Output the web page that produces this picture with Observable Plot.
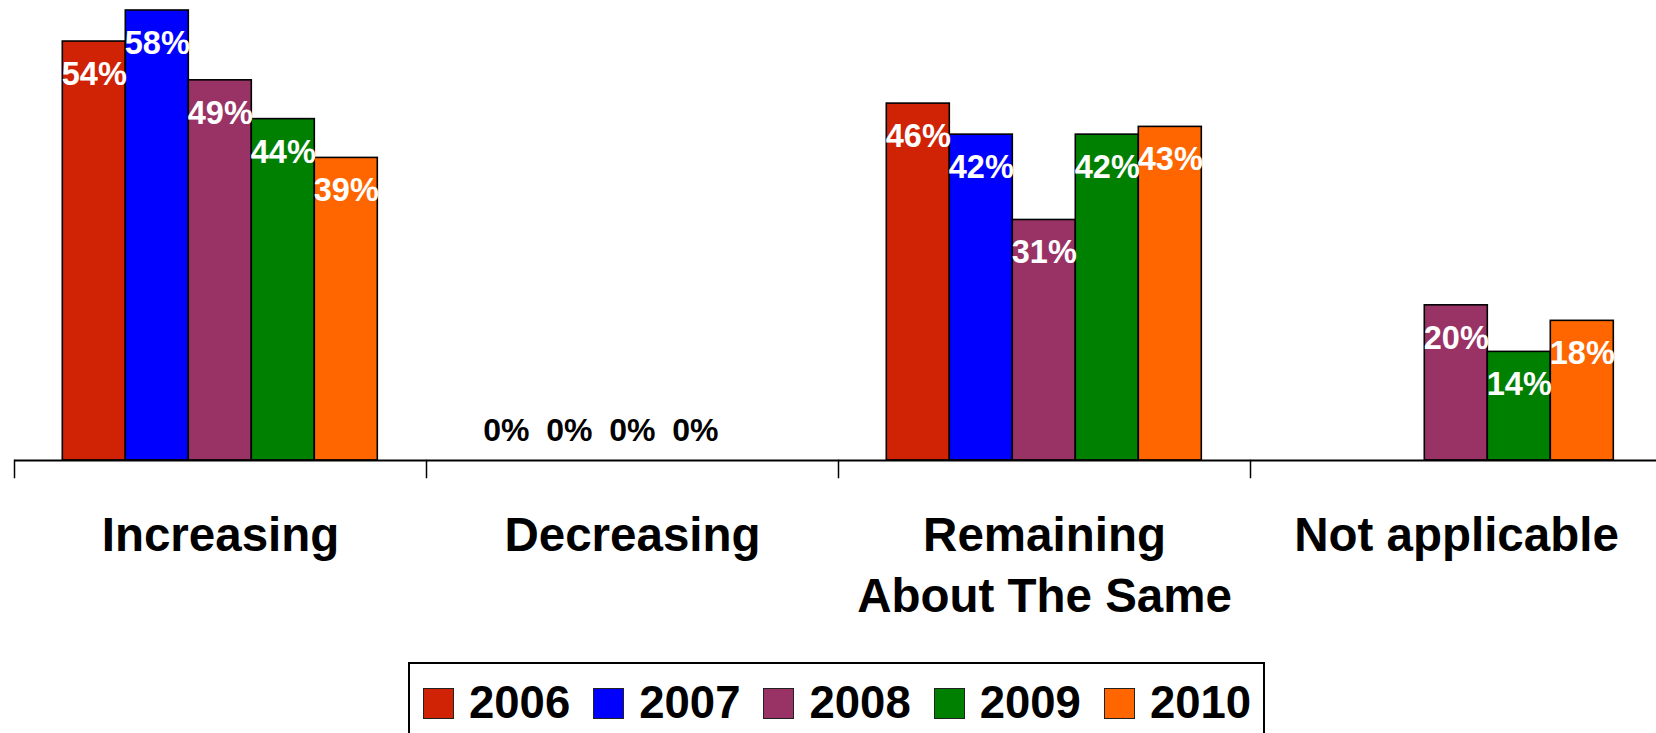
<!DOCTYPE html>
<html>
<head>
<meta charset="utf-8">
<script src="https://cdn.jsdelivr.net/npm/d3@7"></script>
<script src="https://cdn.jsdelivr.net/npm/@observablehq/plot@0.6"></script>
<style>
  html, body { margin: 0; padding: 0; background: #fff; overflow: hidden; }
  #chart { position: relative; width: 1656px; height: 733px; font-family: "Liberation Sans", Arial, sans-serif; }
  .legend {
    position: absolute; left: 408px; top: 662px; width: 857px; height: 100px;
    box-sizing: border-box; border: 2px solid #000; background: #fff;
    display: flex; align-items: flex-start; padding: 21px 0 0 13px;
  }
  .item { display: flex; align-items: center; margin-right: 23px; }
  .sw { width: 31px; height: 31px; box-sizing: border-box; border: 1.5px solid #222; margin-right: 15px; }
  .lab { font-size: 45.5px; font-weight: bold; line-height: 36px; color: #000; }
</style>
</head>
<body>
<div id="chart"></div>
<script>
// ---- data ----
const categories = ["Increasing", "Decreasing", "Remaining\nAbout The Same", "Not applicable"];
const years = ["2006", "2007", "2008", "2009", "2010"];
const colors = ["#D02205", "#0000FF", "#993366", "#008000", "#FF6600"];
const v2006 = [54, 0, 46, null];
const v2007 = [58, 0, 42, null];
const v2008 = [49, 0, 31, 20];
const v2009 = [44, 0, 42, 14];
const v2010 = [39, null, 43, 18];
const seriesValues = [v2006, v2007, v2008, v2009, v2010];

const data = [];
years.forEach((yr, i) => categories.forEach((c, j) => {
  const v = seriesValues[i][j];
  if (v != null) data.push({category: c, year: yr, value: v});
}));

// ---- layout ----
const W = 1656, H = 655, mL = 12.7, mR = -7.1, mT = 10, mB = 195;

const plot = Plot.plot({
  width: W, height: H,
  marginLeft: mL, marginRight: mR, marginTop: mT, marginBottom: mB,
  style: {fontFamily: "'Liberation Sans', Arial, sans-serif", background: "#fff"},
  fx: {domain: categories, padding: 0, label: null},
  x: {domain: years, paddingInner: 0, paddingOuter: 0.7437, axis: null},
  y: {domain: [0, 58], axis: null},
  color: {domain: years, range: colors},
  marks: [
    Plot.barY(data, {fx: "category", x: "year", y: "value", fill: "year", stroke: "#000", strokeWidth: 1.6}),
    Plot.ruleY([0], {stroke: "#000", strokeWidth: 1.8}),
    Plot.frame({anchor: "left", insetTop: H - mT - mB, insetBottom: -17, stroke: "#000", strokeWidth: 1.5}),
    Plot.text(data.filter(d => d.value > 0), {
      fx: "category", x: "year", y: "value", text: d => d.value + "%",
      fill: "#fff", fontSize: 32.5, fontWeight: "bold", lineAnchor: "middle", dy: 33
    }),
    Plot.text(data.filter(d => d.value === 0), {
      fx: "category", x: "year", y: "value", text: d => d.value + "%",
      fill: "#000", fontSize: 32, fontWeight: "bold", lineAnchor: "middle", dy: -30
    }),
    Plot.axisFx({anchor: "bottom", tickSize: 0, tickPadding: 47, fontSize: 47.5, fontWeight: "bold", lineHeight: 1.29, label: null, fill: "#000"})
  ]
});

const chart = document.getElementById("chart");
chart.appendChild(plot);

// ---- legend ----
const legend = d3.select(chart).append("div").attr("class", "legend");
const items = legend.selectAll(".item").data(years).join("div").attr("class", "item");
items.append("div").attr("class", "sw").style("background", (d, i) => colors[i]);
items.append("span").attr("class", "lab").text(d => d);
</script>
</body>
</html>
